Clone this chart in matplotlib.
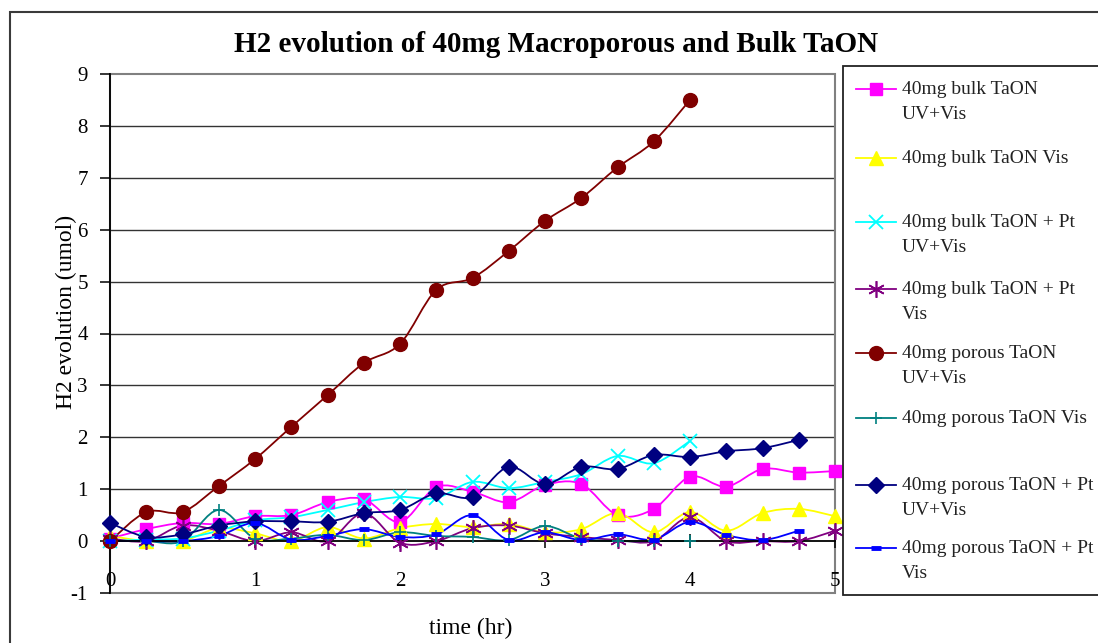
import matplotlib.pyplot as plt
import numpy as np
from matplotlib.path import Path
from matplotlib.patches import PathPatch, Rectangle
from matplotlib.lines import Line2D

plt.rcParams['font.family'] = ['Liberation Serif', 'DejaVu Serif']
plt.rcParams['axes.unicode_minus'] = False

# sampling times (hr), one reading every 15 min
hours = [0, 0.25, 0.5, 0.75, 1, 1.25, 1.5, 1.75, 2, 2.25, 2.5, 2.75,
         3, 3.25, 3.5, 3.75, 4, 4.25, 4.5, 4.75, 5]

# H2 evolved (umol) per sample
bulk_uvvis = [0.05, 0.23, 0.35, 0.33, 0.48, 0.50, 0.75, 0.81, 0.37, 1.04, 0.95,
              0.75, 1.08, 1.10, 0.50, 0.62, 1.24, 1.05, 1.39, 1.32, 1.35]
bulk_vis = [0.10, 0.0, 0.0, 0.25, 0.15, 0.0, 0.27, 0.05, 0.25, 0.33, 0.27,
            0.33, 0.17, 0.23, 0.54, 0.17, 0.56, 0.20, 0.54, 0.62, 0.48]
bulk_pt_uvvis = [0.0, 0.03, 0.05, 0.20, 0.40, 0.46, 0.60, 0.75, 0.85, 0.83,
                 1.14, 1.02, 1.14, 1.29, 1.64, 1.50, 1.93]
bulk_pt_vis = [0.05, 0.0, 0.30, 0.20, 0.0, 0.17, 0.0, 0.54, -0.03, 0.0, 0.25,
               0.30, 0.15, 0.08, 0.02, 0.0, 0.46, 0.0, 0.0, 0.0, 0.20]
porous_uvvis = [0.0, 0.56, 0.56, 1.06, 1.58, 2.20, 2.81, 3.43, 3.80, 4.84,
                5.07, 5.59, 6.17, 6.61, 7.20, 7.70, 8.50]
porous_vis = [0.0, 0.0, 0.0, 0.60, 0.05, 0.05, 0.12, 0.02, 0.17, 0.10, 0.08,
              0.02, 0.29, 0.05, 0.0, 0.0, 0.0]
porous_pt_uvvis = [0.35, 0.08, 0.13, 0.30, 0.38, 0.38, 0.37, 0.54, 0.60, 0.92,
                   0.85, 1.43, 1.10, 1.43, 1.39, 1.66, 1.62, 1.73, 1.79, 1.95]
porous_pt_vis = [0.0, 0.0, 0.0, 0.10, 0.35, 0.03, 0.10, 0.23, 0.08, 0.13, 0.50,
                 0.02, 0.17, 0.02, 0.13, 0.03, 0.37, 0.12, 0.02, 0.20]

labels = ["40mg bulk TaON\nUV+Vis", "40mg bulk TaON Vis",
          "40mg bulk TaON + Pt\nUV+Vis", "40mg bulk TaON + Pt\nVis",
          "40mg porous TaON\nUV+Vis", "40mg porous TaON Vis",
          "40mg porous TaON + Pt\nUV+Vis", "40mg porous TaON + Pt\nVis"]
series = [bulk_uvvis, bulk_vis, bulk_pt_uvvis, bulk_pt_vis,
          porous_uvvis, porous_vis, porous_pt_uvvis, porous_pt_vis]
colors = ["#FF00FF", "#FFFF00", "#00FFFF", "#800080",
          "#800000", "#008080", "#000080", "#0000FF"]
styles = [dict(marker="s", ms=9),
          dict(marker="^", ms=10),
          dict(marker="x", ms=10, mew=1.3),
          dict(marker=(6, 2, 0), ms=12, mew=1.2),
          dict(marker="o", ms=10),
          dict(marker="+", ms=8, mew=1.2),
          dict(marker="D", ms=8),
          dict(marker="_", ms=7, mew=3.5)]

W, H = 1098, 643


def px(x, y):
    return x / W, 1 - y / H


def smooth_path(xs, ys):
    # Catmull-Rom style cubic Bezier through the points (spreadsheet "smoothed line")
    p = np.column_stack([xs, ys]).astype(float)
    n = len(p)
    verts = [p[0]]
    codes = [Path.MOVETO]
    for i in range(n - 1):
        a = p[i - 1] if i > 0 else p[i]
        d = p[i + 2] if i + 2 < n else p[i + 1]
        verts += [p[i] + (p[i + 1] - a) / 6, p[i + 1] - (d - p[i]) / 6, p[i + 1]]
        codes += [Path.CURVE4] * 3
    return Path(verts, codes)


fig = plt.figure(figsize=(W / 100, H / 100), dpi=100)
ax = fig.add_axes([110 / W, 1 - 593 / H, (835 - 110) / W, (593 - 74) / H])

# outer chart frame
fig.add_artist(Rectangle(px(10, 700), (1200 - 10) / W, (700 - 12) / H,
                         transform=fig.transFigure, fill=False,
                         ec="#3a3a3a", lw=1.5))

ax.set_xlim(0, 5)
ax.set_ylim(-1, 9)
for g in range(1, 9):
    ax.axhline(g, color="#333333", lw=1.0, zorder=0)
ax.add_patch(Rectangle((0, 0), 1, 1, transform=ax.transAxes, fill=False,
                       ec="#808080", lw=1.5, zorder=0.5, clip_on=False))

for ys, c, st in zip(series, colors, styles):
    xs = hours[:len(ys)]
    ax.add_patch(PathPatch(smooth_path(xs, ys), fill=False, ec=c, lw=1.3,
                           zorder=2, clip_on=False))
    ax.plot(xs, ys, ls="none", color=c, mec=c, mfc=c, zorder=3,
            clip_on=False, **st)

for s in ["top", "right"]:
    ax.spines[s].set_visible(False)
ax.spines["bottom"].set_position(("data", 0))
ax.spines["left"].set_linewidth(1.3)
ax.spines["bottom"].set_linewidth(1.3)

ax.set_xticks([0, 1, 2, 3, 4, 5])
ax.set_yticks(range(-1, 10))
ax.tick_params(axis="x", direction="inout", length=10, width=1.1, pad=17,
               labelsize=15)
ax.tick_params(axis="y", direction="out", length=7, width=1.1, pad=9,
               labelsize=15)

fig.text(*px(556, 45), "H2 evolution of 40mg Macroporous and Bulk TaON",
         ha="center", va="center", fontsize=21, fontweight="bold")
fig.text(*px(66, 312), "H2 evolution (umol)", ha="center", va="center",
         rotation=90, fontsize=17)
fig.text(*px(471, 628), "time (hr)", ha="center", va="center", fontsize=17)

# legend box drawn by hand
fig.add_artist(Rectangle(px(843, 595), (1200 - 843) / W, (595 - 66) / H,
                         transform=fig.transFigure, fill=True, fc="white",
                         ec="#222222", lw=1.3))
legend_y = [89, 158, 222, 289, 353, 418, 485, 548]
for yy, lab, c, st in zip(legend_y, labels, colors, styles):
    x0, y0 = px(856, yy)
    x1, _ = px(896, yy)
    fig.add_artist(Line2D([x0, x1], [y0, y0], transform=fig.transFigure,
                          color=c, lw=1.3))
    fig.add_artist(Line2D([(x0 + x1) / 2], [y0], transform=fig.transFigure,
                          ls="none", color=c, mec=c, mfc=c, **st))
    tx, ty = px(902, yy - 8)
    fig.text(tx, ty, lab, ha="left", va="top", fontsize=14,
             linespacing=1.65, color="#222222")

fig.savefig("out.png", dpi=100)
